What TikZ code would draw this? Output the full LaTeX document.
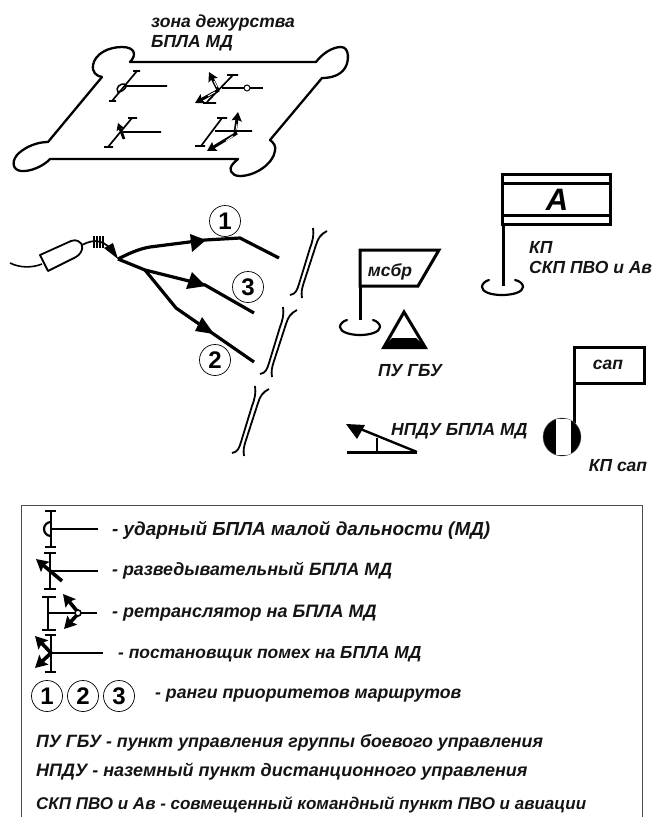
\documentclass[tikz,border=0pt]{standalone}
\usepackage{fontspec}
\setmainfont{Liberation Sans}
\usetikzlibrary{arrows.meta}
\newcommand{\fsz}[1]{\bfseries\itshape\fontsize{#1}{20}\selectfont}
\tikzset{
  lab/.style={font=\fsz{17.5},inner sep=0pt,anchor=west,text=black!92},
  rank/.style={circle,draw=black,line width=.7pt,minimum size=31pt,inner sep=0pt,font=\bfseries\fontsize{24}{25}\selectfont},
  zoneln/.style={line width=2.3pt,line join=round,line cap=round},
  routeln/.style={line width=3.2pt,line join=round},
  heavy/.style={line width=3pt,line join=miter},
  brk/.style={line width=1.8pt},
  sy/.style={line width=2.8pt},
  syt/.style={line width=1.7pt},
  dart/.style={line width=3.6pt,-{Stealth[length=12pt,width=13pt,inset=2pt]}},
  dartt/.style={line width=3pt,-{Stealth[length=9pt,width=10pt,inset=1.5pt]}},
  slit/.style={white,line width=.9pt},
  ringln/.style={line width=2.2pt,line cap=round},
}
\begin{document}
\begin{tikzpicture}[x=1pt,y=-1pt]
\useasboundingbox (0,0) rectangle (654,817);
\fill[white] (0,0) rectangle (654,817);
% zone outline
\draw[zoneln] (130,62) -- (316,62)
  .. controls (322,54) and (332,47) .. (341,47)
  .. controls (350,47) and (349,62) .. (345,68)
  .. controls (340,76) and (330,78) .. (322,78)
  -- (270,140) .. controls (274,143) and (276,146) .. (275,151)
  .. controls (273,164) and (255,176) .. (240,176)
  .. controls (230,176) and (229,168) .. (232,165)
  .. controls (234,162) and (236,161) .. (238,159)
  -- (50,159) .. controls (44,166) and (30,172) .. (21,171)
  .. controls (12,170) and (11,160) .. (19,153)
  .. controls (27,146) and (38,142) .. (48,142)
  -- (102,77) .. controls (96,76) and (92,72) .. (93,65)
  .. controls (95,54) and (108,47) .. (122,47)
  .. controls (135,47) and (137,55) .. (130,62);
\node[lab] (zt1) at (151,23) {зона дежурства};
\node[lab] (zt2) at (151,43) {БПЛА МД};
% zone symbol 1
\draw[syt] (112,101) -- (137,71) (133,71) -- (140,71) (109,101) -- (116,101) (125,86) -- (167,86);
\draw[line width=1.5pt] (125,84) .. controls (120,83) and (115,88) .. (118,92) .. controls (121,92) and (125,90) .. (127,85);
% zone symbol 2
\draw[syt] (227,75) -- (238,75) (233,75) -- (207,102) (203,103) -- (216,103);
\draw[line width=2.2pt] (222,88) -- (263,88);
\draw[line width=1pt,fill=white] (247,88) circle (3);
\draw[dartt] (218,90) -- (209,72);
\draw[dartt] (219,90) -- (195,103);
\draw[slit] (217,87) -- (214,81) (215,92) -- (208,96);
% zone symbol 3
\draw[syt] (128,118) -- (137,118) (132,118) -- (108,147) (104,147) -- (113,147) (123,132) -- (161,132);
\draw[line width=2.8pt,-{Stealth[length=7pt,width=8pt,inset=1pt]}] (124,139) -- (118,123);
% zone symbol 4
\draw[syt] (217,118) -- (227,118) (222,118) -- (201,146) (195,146) -- (205,146) (215,131) -- (252,131);
\draw[dartt] (235,133) -- (238,112);
\draw[dartt] (237,133) -- (207,151);
\draw[slit] (236,130) -- (237,124) (233,136) -- (226,141);
% drone launcher
\draw[line width=1.6pt] (10,263) .. controls (20,268) and (32,268) .. (42,264);
\draw[line width=1.8pt,line join=round] (40,255) -- (48,271) -- (76,257)
  .. controls (84,252) and (84,243) .. (78,241) .. controls (76,240) and (74,240) .. (71,241) -- cycle;
\draw[line width=1.7pt] (82,245) .. controls (95,238) and (105,240) .. (115,254);
\draw[line width=1.3pt] (94,236) -- (94,248) (97,236) -- (97,248) (100,236) -- (100,248) (103,236) -- (103,248);
\fill (118,259) -- (104,248) -- (113,243) -- cycle;
% routes
\draw[routeln] (118,259) .. controls (128,254) and (138,249) .. (150,247) -- (205,240) -- (240,238) -- (279,258);
\fill (206,240) -- (190,234) -- (192,252) -- cycle;
\draw[routeln] (118,259) -- (145,270) -- (205,285) -- (254,313);
\fill (206,286) -- (192,272) -- (186,289) -- cycle;
\draw[routeln] (145,270) -- (176,308) -- (254,362);
\fill (214,334) -- (202,317) -- (195,331) -- cycle;
\node[rank] (r1) at (225,221) {1};
\node[rank] (r3) at (248,287) {3};
\node[rank] (r2) at (215,360) {2};
% double brackets
\foreach \dx/\dy in {0/0,-30/79,-58/158}{
\begin{scope}[shift={(\dx,\dy)}]
\draw[brk] (290,295) .. controls (296,294) and (297,290) .. (299,284) -- (310,248) .. controls (313,240) and (314,235) .. (313,228);
\draw[brk] (302,298) .. controls (301,292) and (302,288) .. (304,282) -- (316,245) .. controls (318,238) and (321,234) .. (327,231);
\end{scope}}
% flag A
\draw[heavy] (502,174) rectangle (610,224);
\draw[heavy] (502,183) -- (610,183) (502,215) -- (610,215);
\draw[heavy] (503,224) -- (503,286);
\draw[ringln] (515,280) .. controls (520,281) and (523,284) .. (523,287) .. controls (523,292) and (513,295) .. (502,295) .. controls (491,295) and (482,292) .. (482,287) .. controls (482,284) and (485,281) .. (489,280);
\node[font=\bfseries\itshape\fontsize{31}{32}\selectfont,inner sep=0pt] (fa) at (557,200) {А};
\node[lab] (kp1) at (529,247) {КП};
\node[lab] (kp2) at (529,267) {СКП ПВО и Ав};
% flag msbr
\draw[heavy] (360,286) -- (360,250) -- (439,250) -- (418,286) -- cycle;
\draw[heavy] (360,286) -- (360,320);
\draw[ringln] (373,320) .. controls (377,321) and (380,324) .. (380,327) .. controls (380,332) and (370,335) .. (360,335) .. controls (350,335) and (340,332) .. (340,327) .. controls (340,324) and (343,321) .. (347,320);
\node[lab,anchor=center] (msbr) at (390,272) {мсбр};
% triangle
\draw[heavy] (404,312) -- (384,347) -- (425,347) -- cycle;
\fill (392,338) -- (416,338) -- (428,349) -- (381,349) -- cycle;
\node[lab,anchor=center] (pu) at (410,371) {ПУ ГБУ};
% sap flag
\draw[heavy] (574,423) -- (574,347) -- (644,347) -- (644,383) -- (574,383);
\fill (562,437) circle (19);
\fill[white] (556,418.9) rectangle (571,455.1);
\draw[line width=.4pt,black!60] (562,437) circle (19);
\node[lab,anchor=center] (sap) at (608,365) {сап};
\node[lab,anchor=center] (ksap) at (618,466) {КП сап};
% ground station
\draw[heavy] (347,452) -- (417,452);
\draw[line width=2.4pt] (417,452) -- (358,428);
\draw[line width=1.5pt] (377,438) -- (377,452);
\fill (346,424) -- (365,425) -- (357,439) -- cycle;
\node[lab] (ndu) at (391,431) {НПДУ БПЛА МД};
% legend box
\draw[black!70,line width=.9pt] (21,820) -- (21,505) -- (642,505) -- (642,820);
% legend symbol 1
\draw[sy] (51,511) -- (51,547) (45,511) -- (56,511) (45,547) -- (56,547) (51,529) -- (98,529);
\draw[line width=2.2pt] (51,522) arc[start angle=270,end angle=90,radius=7];
% legend symbol 2
\draw[sy] (50,553) -- (50,589) (44,553) -- (56,553) (44,589) -- (56,589) (50,571) -- (98,571);
\draw[line width=3.6pt,-{Stealth[length=12pt,width=13pt,inset=2pt]}] (62,581) -- (36,559);
% legend symbol 3
\draw[sy] (48,597) -- (48,630) (42,597) -- (56,597) (42,630) -- (56,630) (48,613) -- (97,613);
\draw[dart] (77,611) -- (63,594);
\draw[dart] (77,615) -- (64,629);
\draw[line width=1.6pt,fill=white] (78,613) circle (3);
% legend symbol 4
\draw[sy] (51,635) -- (51,672) (45,635) -- (56,635) (45,672) -- (56,672) (51,653) -- (103,653);
\draw[dart] (51,653) -- (35,636);
\draw[dart] (51,653) -- (35,668);
\node[lab,font=\fsz{18.9}] (l1) at (112,530) {- ударный БПЛА малой дальности (МД)};
\node[lab,font=\fsz{17.8}] (l2) at (112,571) {- разведывательный БПЛА МД};
\node[lab,font=\fsz{18}] (l3) at (112,613) {- ретранслятор на БПЛА МД};
\node[lab,font=\fsz{17.4}] (l4) at (118,654) {- постановщик помех на БПЛА МД};
\node[rank] (c1) at (47,696) {1};
\node[rank] (c2) at (83,696) {2};
\node[rank] (c3) at (119,696) {3};
\node[lab,font=\fsz{17.7}] (l5) at (155,696) {- ранги приоритетов маршрутов};
\node[lab,font=\fsz{17.8}] (l6) at (36,743) {ПУ ГБУ - пункт управления группы боевого управления};
\node[lab,font=\fsz{18}] (l7) at (36,772) {НПДУ - наземный пункт дистанционного управления};
\node[lab,font=\fsz{17}] (l8) at (36,805) {СКП ПВО и Ав - совмещенный командный пункт ПВО и авиации};
\end{tikzpicture}
\end{document}
